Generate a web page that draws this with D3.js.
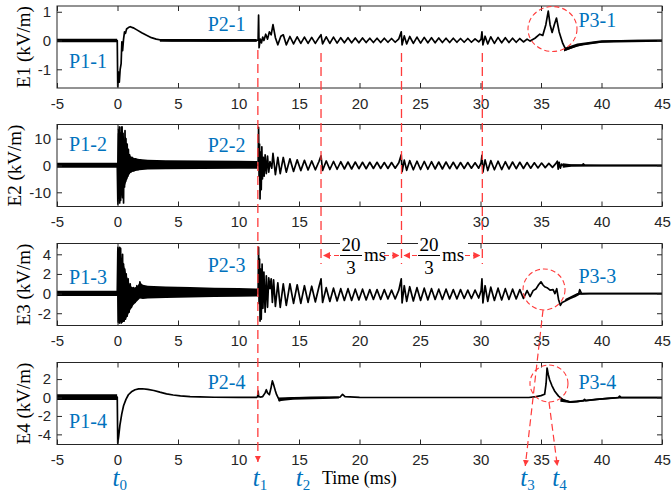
<!DOCTYPE html>
<html>
<head>
<meta charset="utf-8">
<script src="https://cdnjs.cloudflare.com/ajax/libs/d3/7.8.5/d3.min.js"></script>
<style>
  body { margin: 0; background: #fff; }
  svg { display: block; }
  .serif { font-family: "Liberation Serif", "Times New Roman", Times, "DejaVu Serif", serif; }
  .sans { font-family: "Liberation Sans", Arial, Helvetica, sans-serif; }
</style>
</head>
<body>
<div id="vis"></div>
<script type="text/javascript">

// ---- data (time in ms, field in kV/m) ----
const timeTicks = [-5, 0, 5, 10, 15, 20, 25, 30, 35, 40, 45];
const channelNames = ["E1", "E2", "E3", "E4"];
const yDomains = [[-1.65, 1.2], [-15.3, 15.3], [-3.25, 5.1], [-5.1, 3.8]];
const yTicks = [[-1, 0, 1], [-10, 0, 10], [-2, 0, 2, 4], [-4, -2, 0, 2]];

// noise envelopes [t, low, high]
const e1Band = [[-5, -0.06, 0.06], [-0.03, -0.06, 0.06], null,
  [3.5, -0.04, 0.05], [11.5, -0.04, 0.05], null,
  [36.9, -0.38, -0.26], [38, -0.2, -0.1], [40, -0.08, 0.01], [45, -0.04, 0.04]];
const e2Band = [[-5, -0.8, 1.0], [-0.03, -0.8, 1.0], [0.02, -11, 12], [0.3, -12, 12.5], [0.5, -9, 11],
  [0.65, -7, 9], [0.8, -5, 6.5], [0.95, -3.5, 4.5], [1.1, -2.6, 3.4], [1.4, -2.1, 2.8], [1.8, -1.8, 2.4],
  [2.5, -1.5, 2.1], [4, -1.4, 2.0], [7, -1.3, 1.9], [10, -1.2, 1.8], [11.55, -1.2, 1.7], null,
  [36.8, -0.8, 0.8], [37.5, -0.45, 0.45], [40, -0.35, 0.35], [45, -0.35, 0.35]];
const e3Band = [[-5, -0.25, 0.28], [-0.03, -0.25, 0.28], [0.02, -2.8, 4.0], [0.3, -2.95, 3.8], [0.5, -2.85, 3.0],
  [0.7, -2.6, 2.1], [0.9, -2.1, 1.3], [1.05, -1.7, 0.8], [1.3, -1.2, 0.6], [1.6, -0.8, 0.7], [1.85, -0.5, 1.15],
  [2.1, -0.55, 0.9], [2.5, -0.5, 0.8], [4, -0.45, 0.72], [6, -0.4, 0.66], [8, -0.36, 0.6], [10, -0.33, 0.57],
  [11.55, -0.3, 0.52], null, [37, -0.75, -0.55], [38, -0.15, 0.05], [39, -0.08, 0.08], [45, -0.08, 0.08]];
const e4Band = [[-5, -0.27, 0.35], [-0.03, -0.27, 0.35], null,
  [13.3, -0.4, 0.0], [14.5, -0.25, 0.05], [17, -0.15, 0.1], [18.3, -0.1, 0.1], null,
  [36.6, -0.45, -0.1], [37.4, -0.6, -0.38], [39.6, -0.3, -0.1], [41.4, -0.1, 0.08], [45, -0.1, 0.08]];

// traces [t, value]
const e1Trace = [[-5, 0.01], [-4, -0.01], [-3, 0.01], [-2, -0.01], [-1, 0.01], [-0.02, 0.0],
  [0.02, -1.6], [0.1, -1.1], [0.15, -1.45], [0.22, -1.0], [0.3, -0.8], [0.36, -0.05], [0.42, -0.35],
  [0.5, 0.05], [0.58, 0.3], [0.66, 0.25], [0.75, 0.4], [0.9, 0.45], [1.05, 0.48], [1.3, 0.44], [1.6, 0.37],
  [2.0, 0.27], [2.4, 0.18], [2.8, 0.1], [3.2, 0.05], [3.7, 0.01], [4.5, 0.0], [6, 0.0], [8, -0.01], [10, 0.0],
  [11.5, 0.0], [11.62, 0.02], [11.66, 0.88], [11.7, -0.25], [11.8, 0.05], [11.9, -0.08], [12.0, 0.12],
  [12.1, 0.0], [12.25, 0.22], [12.4, 0.05], [12.55, 0.3], [12.7, 0.2], [12.85, 0.55], [13.05, 0.1],
  [13.25, -0.15], [13.5, 0.15], [13.7, 0.2], [13.95, -0.15], [14.25, 0.14], [14.55, -0.12], [14.85, 0.13],
  [15.15, -0.1], [15.45, 0.12], [15.75, -0.1], [16.05, 0.11], [16.35, -0.1], [16.65, 0.1], [16.82, 0.2],
  [16.95, -0.12], [17.25, 0.13], [17.55, -0.1], [17.85, 0.12], [18.15, -0.09], [18.45, 0.1], [18.75, -0.08],
  [19.05, 0.1], [19.35, -0.08], [19.65, 0.09], [19.95, -0.08], [20.25, 0.09], [20.55, -0.07], [20.85, 0.08],
  [21.15, -0.07], [21.45, 0.08], [21.75, -0.07], [22.05, 0.08], [22.35, -0.06], [22.65, 0.07], [22.95, -0.06],
  [23.25, 0.06], [23.45, 0.3], [23.52, -0.15], [23.7, 0.16], [23.9, -0.12], [24.15, 0.14], [24.45, -0.1],
  [24.75, 0.12], [25.05, -0.09], [25.35, 0.11], [25.65, -0.08], [25.95, 0.1], [26.25, -0.08], [26.55, 0.09],
  [26.85, -0.07], [27.15, 0.08], [27.45, -0.07], [27.75, 0.08], [28.05, -0.06], [28.35, 0.07], [28.65, -0.06],
  [28.95, 0.07], [29.25, -0.06], [29.55, 0.06], [29.85, -0.05], [30.05, 0.05], [30.12, 0.3], [30.2, -0.15],
  [30.38, 0.15], [30.6, -0.12], [30.85, 0.13], [31.15, -0.1], [31.45, 0.11], [31.75, -0.08], [32.05, 0.1],
  [32.35, -0.07], [32.65, 0.08], [32.95, -0.06], [33.25, 0.07], [33.55, -0.05], [33.85, 0.05], [34.1, -0.02],
  [34.5, 0.08], [34.9, 0.22], [35.15, 0.18], [35.4, 0.55], [35.6, 1.02], [35.75, 0.55], [35.92, 0.28],
  [36.1, 0.55], [36.28, 0.78], [36.5, 0.3], [36.8, -0.1], [37.05, -0.32], [37.4, -0.27], [37.9, -0.2],
  [38.5, -0.13], [39.2, -0.08], [40.1, -0.04], [41.5, -0.01], [43, 0.0], [45, 0.0]];

const e2Trace = [[-5, 0.1], [-0.02, 0.1],
  [0.03, -14.4], [0.07, 13.5], [0.1, -12], [0.14, 14.4], [0.18, -14], [0.22, 10], [0.26, -13], [0.3, 14.3],
  [0.34, -9], [0.38, 14.4], [0.42, -12], [0.46, 12], [0.5, -14], [0.54, 9], [0.58, -8], [0.62, 13], [0.66, -6],
  [0.7, 10], [0.75, -5], [0.8, 8], [0.85, -4], [0.9, 6], [0.95, -3], [1.0, 4], [1.1, -2.5], [1.2, 3],
  [1.35, -2], [1.5, 2.5], [1.7, -1.5], [1.9, 2], [2.2, 0.3], [2.5, 0.3], [11.55, 0.2],
  [11.62, 0], [11.66, 14.2], [11.7, -4], [11.74, 8], [11.78, -12.5], [11.83, 5], [11.88, -9], [11.93, 7],
  [11.98, -5], [12.05, 3], [12.12, -4], [12.2, 4], [12.3, -3], [12.4, 3.5], [12.5, -2.5], [12.6, 1.5],
  [12.75, -1], [12.85, 4.5], [13.05, -3.4], [13.25, 3], [13.45, -3], [13.7, 3], [13.95, -2.5], [14.25, 2.5],
  [14.55, -2.2], [14.85, 2.1], [15.15, -1.9], [15.45, 1.9], [15.75, -1.7], [16.05, 1.7], [16.35, -1.6],
  [16.65, 1.5], [16.82, 3.6], [16.95, -1.8], [17.25, 1.7], [17.55, -1.5], [17.85, 1.5], [18.15, -1.4],
  [18.45, 1.4], [18.75, -1.3], [19.05, 1.3], [19.35, -1.3], [19.65, 1.3], [19.95, -1.2], [20.25, 1.2],
  [20.55, -1.2], [20.85, 1.2], [21.15, -1.1], [21.45, 1.2], [21.75, -1.1], [22.05, 1.1], [22.35, -1.1],
  [22.65, 1.1], [22.95, -1.0], [23.25, 1.0], [23.45, 4.0], [23.52, -2.3], [23.7, 2.0], [23.9, -1.8],
  [24.15, 1.8], [24.45, -1.6], [24.75, 1.6], [25.05, -1.5], [25.35, 1.5], [25.65, -1.4], [25.95, 1.4],
  [26.25, -1.3], [26.55, 1.3], [26.85, -1.3], [27.15, 1.3], [27.45, -1.2], [27.75, 1.2], [28.05, -1.2],
  [28.35, 1.1], [28.65, -1.1], [28.95, 1.1], [29.25, -1.0], [29.55, 1.0], [29.85, -1.0], [30.05, 1.0],
  [30.12, 3.8], [30.2, -2.5], [30.38, 2.1], [30.6, -1.9], [30.85, 1.8], [31.15, -1.6], [31.45, 1.6],
  [31.75, -1.5], [32.05, 1.4], [32.35, -1.3], [32.65, 1.3], [32.95, -1.2], [33.25, 1.2], [33.55, -1.1],
  [33.85, 1.1], [34.15, -1.0], [34.45, 1.0], [34.75, -0.9], [35.05, 0.9], [35.35, -0.8], [35.65, 0.8],
  [35.95, -0.7], [36.2, 0.6], [36.35, 1.6], [36.42, -1.4], [36.5, 1.2], [36.6, -1.0], [36.7, 0.5],
  [36.9, -0.3], [37.5, 0.1], [38.4, 0.1], [38.5, 0.6], [38.6, 0.1], [40, 0], [45, 0]];

const e3Trace = [[-5, 0.02], [-0.02, 0.02],
  [0.03, 4.7], [0.06, -2.9], [0.1, 4.5], [0.14, -3.0], [0.18, 4.7], [0.22, -2.8], [0.26, 4.6], [0.3, -3.0],
  [0.34, 3.5], [0.38, -2.9], [0.42, 4.0], [0.46, -2.8], [0.5, 3.0], [0.55, -2.8], [0.6, 2.5], [0.66, -2.6],
  [0.72, 2.0], [0.8, -2.3], [0.88, 1.5], [0.96, -1.9], [1.05, 1.0], [1.15, -1.4], [1.3, 0.6], [1.45, -0.9],
  [1.6, 0.8], [1.75, -0.3], [1.85, 1.2], [2.0, 0.3], [2.3, 0.6], [2.6, 0.1], [3, 0.15], [11.55, 0.1],
  [11.62, 0], [11.66, 4.7], [11.7, -1], [11.74, 3.5], [11.78, -2.8], [11.83, 2.5], [11.88, -2.6], [11.95, 3.0],
  [12.02, -1.5], [12.1, 2.2], [12.2, -1.9], [12.3, 1.8], [12.4, -1.4], [12.5, 1.6], [12.6, 0.5], [12.7, 1.5],
  [12.8, -0.9], [12.9, 1.4], [13.05, -1.3], [13.25, 1.1], [13.45, -1.4], [13.7, 1.0], [13.95, -1.2],
  [14.25, 1.0], [14.55, -1.0], [14.85, 0.9], [15.15, -1.0], [15.45, 0.8], [15.75, -0.9], [16.05, 0.75],
  [16.35, -0.85], [16.65, 0.7], [16.82, 1.5], [16.95, -0.9], [17.25, 0.6], [17.55, -0.8], [17.85, 0.55],
  [18.15, -0.75], [18.45, 0.5], [18.75, -0.7], [19.05, 0.5], [19.35, -0.7], [19.65, 0.45], [19.95, -0.65],
  [20.25, 0.45], [20.55, -0.65], [20.85, 0.4], [21.15, -0.6], [21.45, 0.4], [21.75, -0.6], [22.05, 0.4],
  [22.35, -0.55], [22.65, 0.35], [22.95, -0.55], [23.25, 0.35], [23.45, 1.5], [23.52, -0.95], [23.7, 0.8],
  [23.9, -0.8], [24.15, 0.7], [24.45, -0.75], [24.75, 0.6], [25.05, -0.7], [25.35, 0.55], [25.65, -0.65],
  [25.95, 0.5], [26.25, -0.6], [26.55, 0.45], [26.85, -0.6], [27.15, 0.45], [27.45, -0.55], [27.75, 0.4],
  [28.05, -0.55], [28.35, 0.4], [28.65, -0.5], [28.95, 0.35], [29.25, -0.5], [29.55, 0.35], [29.85, -0.45],
  [30.05, 0.3], [30.12, 1.5], [30.2, -0.95], [30.38, 0.8], [30.6, -0.8], [30.85, 0.65], [31.15, -0.7],
  [31.45, 0.55], [31.75, -0.65], [32.05, 0.5], [32.35, -0.6], [32.65, 0.45], [32.95, -0.55], [33.25, 0.4],
  [33.55, -0.5], [33.85, 0.3], [34.1, -0.3], [34.35, 0.3], [34.6, 0.5], [34.8, 0.9], [35.0, 1.2],
  [35.15, 0.9], [35.3, 0.7], [35.5, 0.6], [35.75, 0.35], [36.0, 0.4], [36.15, 0.0], [36.3, 0.5],
  [36.45, -0.6], [36.6, -1.2], [36.75, -0.9], [37.0, -0.75], [37.4, -0.5], [37.8, -0.3], [38.1, -0.1],
  [38.2, 0.4], [38.35, 0.0], [39, 0.0], [45, 0.0]];

const e4Trace = [[-5, 0.05], [-0.02, 0.05], [0.02, -4.95], [0.1, -4.2], [0.2, -3.0], [0.35, -1.8], [0.5, -0.9],
  [0.7, -0.2], [0.9, 0.3], [1.15, 0.62], [1.45, 0.84], [1.75, 0.93], [2.05, 0.95], [2.5, 0.88], [3.0, 0.76],
  [3.5, 0.58], [4.05, 0.4], [4.6, 0.27], [5.2, 0.18], [6, 0.1], [6.8, 0.06], [8, 0.03], [10, 0.02],
  [11.5, 0.02], [11.58, 0.1], [11.62, 0.7], [11.67, 0.1], [11.8, 0.05], [12.0, 0.1], [12.2, 0.5],
  [12.3, 0.85], [12.4, 0.5], [12.55, 0.3], [12.68, 1.0], [12.8, 1.8], [12.9, 1.4], [13.05, 0.7],
  [13.15, 0.3], [13.3, -0.1], [13.4, -0.35], [13.6, -0.2], [13.9, -0.15], [14.3, -0.1], [15, -0.05],
  [16, -0.02], [17.5, 0], [18.4, 0.05], [18.6, 0.35], [18.8, 0.1], [20, 0.02], [25, 0], [30, 0], [34, 0],
  [34.6, 0.1], [35.0, 0.2], [35.3, 0.35], [35.42, 1.5], [35.5, 3.2], [35.6, 2.5], [35.72, 1.9], [35.9, 1.3],
  [36.15, 0.65], [36.45, 0.15], [36.85, -0.25], [37.4, -0.5], [38, -0.45], [38.5, -0.35], [38.6, -0.2],
  [38.7, -0.35], [39.6, -0.2], [40.5, -0.1], [41.4, 0.0], [41.5, 0.15], [41.6, 0.02], [43, 0], [45, 0]];

const traces = [e1Trace, e2Trace, e3Trace, e4Trace];
const bands = [e1Band, e2Band, e3Band, e4Band];

// panel labels [text, t, value]
const panelLabels = [
  [["P1-1", -4.0, -0.95], ["P2-1", 7.45, 0.33], ["P3-1", 38.1, 0.47]],
  [["P1-2", -4.0, 5.4], ["P2-2", 7.45, 5.0]],
  [["P1-3", -4.0, 0.98], ["P2-3", 7.45, 2.2], ["P3-3", 38.1, 1.08]],
  [["P1-4", -4.0, -3.3], ["P2-4", 7.45, 0.92], ["P3-4", 38.1, 0.92]]
];
const markTimes = [11.6, 16.82, 23.47, 30.15];   // t1 and the 20/3 ms spaced pulses
const tLabels = [["0", 0], ["1", 11.6], ["2", 15.15], ["3", 33.7], ["4", 36.35]];

// ---- layout ----
const width = 671, height = 496;
const panelTop = [6, 124.5, 243.5, 362.5];
const panelH = 82;
const red = "#ff3b3b", blue = "#0072BD", axisCol = "#262626";

const svg = d3.select("#vis").append("svg")
  .attr("width", width).attr("height", height)
  .style("background", "#fff");

const x = d3.scaleLinear().domain([-5, 45]).range([57, 662]);
const ys = yDomains.map((dom, i) => d3.scaleLinear().domain(dom).range([panelTop[i] + panelH, panelTop[i]]));

const defs = svg.append("defs");
defs.append("marker").attr("id", "head")
  .attr("viewBox", "0 0 10 10").attr("refX", 10).attr("refY", 5)
  .attr("markerWidth", 7).attr("markerHeight", 7).attr("markerUnits", "userSpaceOnUse")
  .attr("orient", "auto")
  .append("path").attr("d", "M0,0L10,5L0,10Z").attr("fill", red);
defs.append("marker").attr("id", "headWide")
  .attr("viewBox", "0 0 10 10").attr("refX", 10).attr("refY", 5)
  .attr("markerWidth", 6).attr("markerHeight", 10).attr("markerUnits", "userSpaceOnUse")
  .attr("orient", "auto")
  .append("path").attr("d", "M0,0L10,5L0,10Z").attr("fill", red);

channelNames.forEach((name, i) => {
  const y = ys[i];
  const g = svg.append("g").attr("id", "panel" + name);

  defs.append("clipPath").attr("id", "clip" + i)
    .append("rect").attr("x", x(-5)).attr("y", panelTop[i]).attr("width", x(45) - x(-5)).attr("height", panelH);

  const plot = g.append("g").attr("clip-path", "url(#clip" + i + ")");

  const area = d3.area().defined(d => d !== null)
    .x(d => x(d[0])).y0(d => y(d[1])).y1(d => y(d[2]));
  plot.append("path").datum(bands[i])
    .attr("d", area).attr("fill", "#000");

  plot.append("path").datum(traces[i])
    .attr("fill", "none").attr("stroke", "#000").attr("stroke-width", 1.7)
    .attr("stroke-linejoin", "round")
    .attr("d", d3.line().x(d => x(d[0])).y(d => y(d[1])));

  // box + inward ticks, matlab style
  g.append("rect").attr("x", x(-5)).attr("y", panelTop[i])
    .attr("width", x(45) - x(-5)).attr("height", panelH)
    .attr("fill", "none").attr("stroke", axisCol).attr("stroke-width", 1);

  const bottomTicks = name === "E2" ? timeTicks.filter(t => t !== 20 && t !== 25) : timeTicks;
  const xb = g.append("g").attr("transform", "translate(0," + (panelTop[i] + panelH) + ")")
    .call(d3.axisBottom(x).tickValues(timeTicks).tickSizeInner(-5).tickSizeOuter(0).tickPadding(10)
      .tickFormat(t => bottomTicks.includes(t) ? String(t) : ""));
  const xt = g.append("g").attr("transform", "translate(0," + panelTop[i] + ")")
    .call(d3.axisTop(x).tickValues(timeTicks).tickSize(-5).tickFormat(""));
  const yl = g.append("g").attr("transform", "translate(" + x(-5) + ",0)")
    .call(d3.axisLeft(y).tickValues(yTicks[i]).tickSizeInner(-5).tickSizeOuter(0).tickPadding(6)
      .tickFormat(d => String(d)));
  const yr = g.append("g").attr("transform", "translate(" + x(45) + ",0)")
    .call(d3.axisRight(y).tickValues(yTicks[i]).tickSize(-5).tickFormat(""));
  [xb, xt, yl, yr].forEach(a => {
    a.attr("font-family", null).attr("font-size", null);
    a.select(".domain").remove();
    a.selectAll("line").attr("stroke", axisCol);
    a.selectAll("text").attr("class", "sans").attr("fill", axisCol).attr("font-size", 15);
  });

  g.append("text").attr("class", "serif")
    .attr("transform", "translate(" + (name === "E2" ? 21 : 30) + "," + (panelTop[i] + panelH / 2) + ") rotate(-90)")
    .attr("text-anchor", "middle")
    .attr("font-size", 19).attr("fill", "#000")
    .text(name + " (kV/m)");

  g.selectAll("text.plabel").data(panelLabels[i]).join("text")
    .attr("class", "plabel serif")
    .attr("x", d => x(d[1])).attr("y", d => y(d[2]))
    .attr("font-size", 20).attr("fill", blue)
    .text(d => d[0]);
});

// ---- annotations ----
const ann = svg.append("g").attr("id", "annotations");
const dash = "9,5";

// white boxes behind the 20/3 ms captions
const capY = 255.5;
const captions = [[16.82, 23.47], [23.47, 30.15]];
const boxes = [[340, 387], [418, 468]];
boxes.forEach(b => ann.append("rect").attr("x", b[0]).attr("y", 236).attr("width", b[1] - b[0]).attr("height", 43).attr("fill", "#fff"));

// vertical marker lines
markTimes.forEach((t, k) => {
  ann.append("line")
    .attr("x1", x(t)).attr("x2", x(t))
    .attr("y1", k === 0 ? 50 : 53).attr("y2", k === 0 ? 462 : 264)
    .attr("stroke", red).attr("stroke-width", 1.3).attr("stroke-dasharray", dash)
    .attr("marker-end", k === 0 ? "url(#headWide)" : null);
});

// 20/3 ms double arrows with fraction text
captions.forEach((c, k) => {
  const x0 = x(c[0]), x1 = x(c[1]);
  const b = boxes[k];
  ann.append("line").attr("x1", b[0] - 1).attr("x2", x0 + 2).attr("y1", capY).attr("y2", capY)
    .attr("stroke", red).attr("stroke-width", 1.2).attr("stroke-dasharray", "5,3").attr("marker-end", "url(#head)");
  ann.append("line").attr("x1", b[1] - 3).attr("x2", x1 - 2).attr("y1", capY).attr("y2", capY)
    .attr("stroke", red).attr("stroke-width", 1.2).attr("stroke-dasharray", "5,3").attr("marker-end", "url(#head)");
  const fx = b[0] + 11;
  ann.append("text").attr("class", "serif").attr("x", fx).attr("y", 251).attr("text-anchor", "middle")
    .attr("font-size", 19).text("20");
  ann.append("line").attr("x1", fx - 11).attr("x2", fx + 11).attr("y1", capY).attr("y2", capY)
    .attr("stroke", "#000").attr("stroke-width", 1);
  ann.append("text").attr("class", "serif").attr("x", fx).attr("y", 274).attr("text-anchor", "middle")
    .attr("font-size", 19).text("3");
  ann.append("text").attr("class", "serif").attr("x", fx + 13).attr("y", 261)
    .attr("font-size", 19).text("ms");
});

// dashed circles around the P3 events [panel, t, value, rx, ry]
const rings = [[0, 35.95, 0.4, 24.5, 22.5], [2, 35.25, 0.42, 21, 20.5], [3, 35.66, 1.52, 19, 18.5]];
rings.forEach(r => {
  ann.append("ellipse")
    .attr("cx", x(r[1])).attr("cy", ys[r[0]](r[2])).attr("rx", r[3]).attr("ry", r[4])
    .attr("fill", "none").attr("stroke", red).attr("stroke-width", 1.1).attr("stroke-dasharray", "5,3");
});

// slanted leaders to t3 and t4
const leaders = [[rings[1], 33.7], [rings[2], 36.35]];
leaders.forEach(l => {
  const r = l[0];
  ann.append("line")
    .attr("x1", x(r[1]) - (l[1] < r[1] ? 1 : 0)).attr("y1", ys[r[0]](r[2]) + r[4])
    .attr("x2", x(l[1])).attr("y2", 466)
    .attr("stroke", red).attr("stroke-width", 1.2).attr("stroke-dasharray", "7,4")
    .attr("marker-end", "url(#headWide)");
});

// t labels
tLabels.forEach(d => {
  const t = ann.append("text").attr("class", "serif").attr("x", x(d[1]) - 5).attr("y", 486)
    .attr("fill", blue);
  t.append("tspan").attr("font-style", "italic").attr("font-size", 25).text("t");
  t.append("tspan").attr("dy", 4).attr("font-size", 15).text(d[0]);
});

svg.append("text").attr("class", "serif").attr("x", 322).attr("y", 484)
  .attr("font-size", 18).attr("fill", "#000")
  .text("Time (ms)");

</script>
</body>
</html>
